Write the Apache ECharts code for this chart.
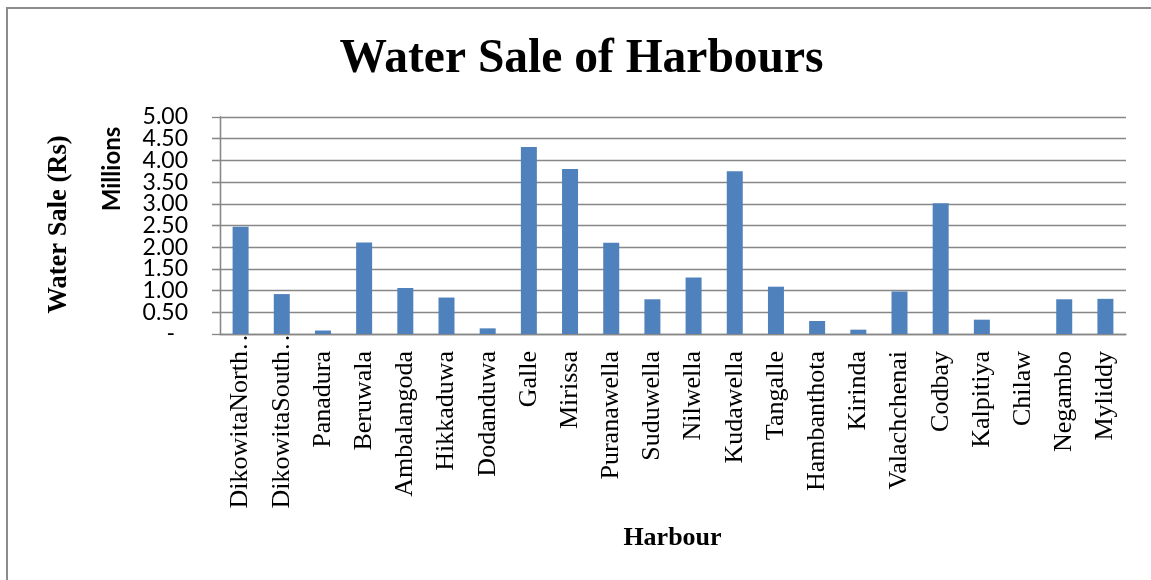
<!DOCTYPE html>
<html>
<head>
<meta charset="utf-8">
<script src="https://cdn.jsdelivr.net/npm/echarts@6/dist/echarts.min.js"></script>
<style>html,body{margin:0;padding:0;background:#fff;}#c{width:1151px;height:580px;}</style>
</head>
<body>
<div id="c"></div>
<script>
var categories = ['DikowitaNorth\u2026', 'DikowitaSouth\u2026', 'Panadura', 'Beruwala', 'Ambalangoda', 'Hikkaduwa', 'Dodanduwa', 'Galle', 'Mirissa', 'Puranawella', 'Suduwella', 'Nilwella', 'Kudawella', 'Tangalle', 'Hambanthota', 'Kirinda', 'Valachchenai', 'Codbay', 'Kalpitiya', 'Chilaw', 'Negambo', 'Myliddy'];
var waterSaleMillions = [2.47, 0.92, 0.08, 2.11, 1.06, 0.84, 0.13, 4.31, 3.80, 2.10, 0.80, 1.30, 3.75, 1.09, 0.30, 0.10, 0.98, 3.01, 0.33, 0, 0.80, 0.81];
var yTicks = { min: 0, max: 5, interval: 0.5 };
var titleText = 'Water Sale of Harbours';
var xAxisTitle = 'Harbour';
var yAxisTitle = 'Water Sale (Rs)';
var yUnitTitle = 'Millions';

var chart = echarts.init(document.getElementById('c'), null, { renderer: 'canvas' });
var serif = '"Liberation Serif", "Times New Roman", serif';
var sans = 'Lato, "Noto Sans", sans-serif';
var grey = '#878787';

function fmtY(v) {
  if (v === 0) return '{d|-}';
  return '{v|' + v.toFixed(2) + '}';
}
var yRich = {
  v: { fontFamily: sans, fontSize: 23, color: '#000' },
  d: { fontFamily: sans, fontSize: 23, color: '#000', padding: [0, 13, 0, 0] }
};
var yCommon = {
  type: 'value',
  position: 'left',
  min: yTicks.min,
  max: yTicks.max,
  interval: yTicks.interval,
  axisLine: { show: true, lineStyle: { color: grey, width: 1.3 } },
  axisTick: { show: true, length: 8, inside: false, lineStyle: { color: grey, width: 1.3 } }
};

chart.setOption({
  backgroundColor: '#ffffff',
  animation: false,
  grid: { left: 220, right: 25, top: 117, bottom: 246, containLabel: false, outerBoundsMode: 'none' },
  xAxis: {
    type: 'category',
    data: categories,
    axisLine: { show: true, lineStyle: { color: grey, width: 1.3 } },
    axisTick: { show: false },
    axisLabel: {
      interval: 0,
      rotate: 90,
      margin: 17,
      hideOverlap: false,
      fontFamily: serif,
      fontSize: 26,
      color: '#000',
      formatter: function (v) {
        if (v.charAt(v.length - 1) === '\u2026') {
          return '{t|' + v.slice(0, -1) + '}{e|\u2026}';
        }
        return '{t|' + v + '}';
      },
      rich: {
        t: { fontFamily: serif, fontSize: 26, color: '#000' },
        e: { fontFamily: serif, fontSize: 26, color: '#000', padding: [0, -26, 0, 0] }
      }
    },
    splitLine: { show: false }
  },
  yAxis: [
    Object.assign({}, yCommon, {
      splitLine: { show: true, showMinLine: true, showMaxLine: true, lineStyle: { color: grey, width: 1.3 } },
      axisLabel: {
        margin: 32, showMinLabel: false, showMaxLabel: false, hideOverlap: false,
        fontFamily: sans, fontSize: 23, color: '#000', formatter: fmtY, rich: yRich
      }
    }),
    Object.assign({}, yCommon, {
      offset: 0,
      splitLine: { show: false },
      axisLabel: {
        margin: 32, showMinLabel: true, showMaxLabel: true, hideOverlap: false,
        fontFamily: sans, fontSize: 23, color: '#000',
        formatter: function (v) {
          return (v === yTicks.min || v === yTicks.max) ? fmtY(v) : '';
        },
        rich: yRich
      }
    })
  ],
  series: [{
    type: 'bar',
    yAxisIndex: 0,
    data: waterSaleMillions,
    barWidth: 16,
    itemStyle: { color: '#4F81BD' }
  }],
  graphic: [
    {
      type: 'rect',
      silent: true,
      shape: { x: 7, y: 8, width: 1400, height: 800 },
      style: { fill: 'none', stroke: '#8c8c8c', lineWidth: 2 }
    },
    {
      type: 'text',
      x: 581.5, y: 60,
      style: { text: titleText, font: 'bold 47.5px ' + serif, fill: '#000', textAlign: 'center', textVerticalAlign: 'middle' }
    },
    {
      type: 'text',
      x: 672.5, y: 538,
      style: { text: xAxisTitle, font: 'bold 26px ' + serif, fill: '#000', textAlign: 'center', textVerticalAlign: 'middle' }
    },
    {
      type: 'text',
      x: 59, y: 224.5, rotation: Math.PI / 2,
      style: { text: yAxisTitle, font: 'bold 26.5px ' + serif, fill: '#000', textAlign: 'center', textVerticalAlign: 'middle' }
    },
    {
      type: 'text',
      x: 112, y: 169, rotation: Math.PI / 2,
      style: { text: yUnitTitle, font: 'bold 24px ' + sans, fill: '#000', textAlign: 'center', textVerticalAlign: 'middle' }
    }
  ]
});
</script>
</body>
</html>
